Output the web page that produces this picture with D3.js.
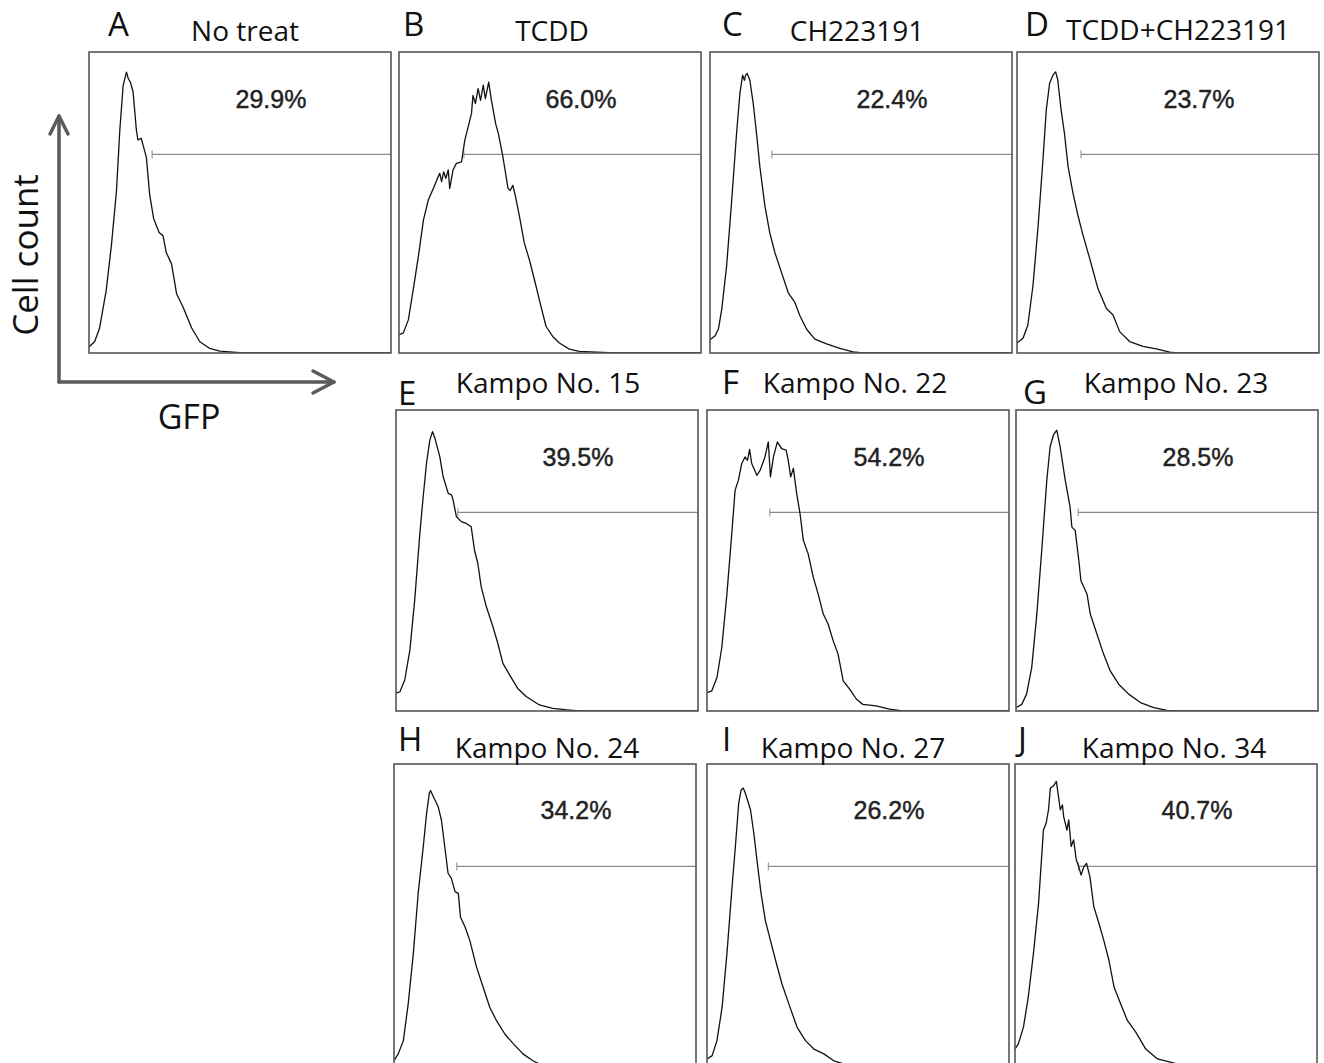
<!DOCTYPE html>
<html>
<head>
<meta charset="utf-8">
<script src="https://cdn.jsdelivr.net/npm/d3@7"></script>
<style>
  html, body { margin: 0; padding: 0; background: #fff; }
  svg { display: block; }
  .title { font-family: "Open Sans", sans-serif; fill: #111; }
  .pct { font-family: "Liberation Sans", Arial, sans-serif; fill: #222; stroke: #222; stroke-width: 0.45px; }
</style>
</head>
<body>
<div id="chart"></div>
<script>
var width = 1324;
var height = 1063;

// panel letters / titles / gated percentages
var letters = ['A', 'B', 'C', 'D', 'E', 'F', 'G', 'H', 'I', 'J'];
var titles = ['No treat', 'TCDD', 'CH223191', 'TCDD+CH223191',
  'Kampo No. 15', 'Kampo No. 22', 'Kampo No. 23',
  'Kampo No. 24', 'Kampo No. 27', 'Kampo No. 34'];
var percents = ['29.9%', '66.0%', '22.4%', '23.7%', '39.5%', '54.2%', '28.5%', '34.2%', '26.2%', '40.7%'];

// gate start on the GFP axis (0-100 of the plotted range) and its height (count %)
var gateStarts = [20.9, 21.5, 20.5, 21.2, 20.5, 20.8, 20.6, 20.8, 20.3, 21.0];
var gateLevel = 66;

// histograms: [GFP, cell count] in % of the plotted range
var histA = [[0,2],[1.9,3.8],[3.5,8.3],[5.7,20.8],[7.4,35.6],[9.1,53.8],[10.2,74],[11.3,88.8],[12.4,93.3],[13,91.2],[13.7,90],[14.6,86.7],[15.7,74],[16.2,70.8],[17.3,71.3],[19,65],[20.1,52.5],[21.4,44.7],[23.2,40],[24.5,39],[25.6,33.3],[27.3,29.7],[29,19.7],[31.2,15.1],[34,8.3],[36.7,3.75],[40,1.5],[43.3,0.6],[47.7,0.3],[51,0],[100,0]];
var histB = [[0,6.1],[1.4,6.6],[3.1,11],[4.7,21],[6.4,32],[8.1,44.2],[9.7,50.8],[11.4,54.7],[13,58.6],[13.5,59.7],[14.1,56.9],[14.8,60.2],[15.5,58],[16.3,60.8],[16.8,54.7],[17.9,60.8],[19,63],[20.7,63.5],[21.8,70.7],[22.9,75.1],[24,79.6],[24.5,85.6],[25.3,82.9],[26.2,87.8],[27,83.9],[27.9,89],[28.6,84.5],[29.7,90],[30.6,84],[32,76.2],[32.9,72.9],[34.4,65.2],[36.1,54.7],[36.8,54],[37.7,55.7],[38.6,51.9],[39.9,45.3],[41.5,36.5],[43.2,30.9],[45.4,22.1],[47,15.5],[48.7,8.8],[50.9,5.5],[53.1,3.3],[56.4,1.3],[59.7,0.55],[67.4,0.2],[71.8,0],[100,0]];
var histC = [[0,4.4],[1.7,5.7],[2.8,8],[3.9,14.6],[5.5,28.9],[7.2,50.9],[8.8,73],[9.9,86.2],[10.8,92.3],[11.4,90.6],[11.8,92.3],[12.3,92.9],[13.2,90.6],[14.3,83],[15.4,73],[16.5,62],[18.2,48.7],[19.8,39.9],[21.5,33.3],[23.7,26.7],[25.9,20],[28.1,16.8],[29.8,12.3],[32,7.9],[34.7,4.6],[38.6,3],[43,1.5],[47.4,0.4],[50.7,0],[100,0]];
var histD = [[0,3.3],[2,4.9],[3.6,9.3],[5.3,22.5],[7,42.3],[8.6,64.3],[9.7,80.8],[10.8,89.6],[11.9,92.3],[12.8,93.4],[13.5,90.7],[14.6,80.8],[15.7,73.1],[16.9,62],[18.5,53.3],[20.2,45.6],[21.9,39],[24.1,31.3],[26.8,21.4],[29.6,14.8],[31.8,12.6],[34,7.1],[37.3,3.8],[41.7,2.2],[46.1,1.4],[50.6,0.3],[52.8,0],[100,0]];
var histE = [[0,5.9],[1.3,6.4],[2.9,10.3],[4.6,20.3],[6.2,36.9],[7.9,59],[9,71.2],[10.1,82.3],[11.2,90],[12.1,92.8],[12.9,90.6],[14.5,84.5],[15.6,77.9],[17.3,72.3],[18.4,71.8],[18.9,70.1],[20,64.6],[21.6,62.9],[23.3,62.3],[24.9,61.2],[26,53.4],[27.1,49],[28.2,41.3],[29.9,34.7],[32.1,28],[33.7,22.5],[35.4,15.8],[37.6,12],[40.3,7.5],[43.1,4.8],[47.5,2],[51.9,0.9],[57.4,0.3],[60.7,0],[100,0]];
var histF = [[0,6.1],[1.6,6.7],[3.3,11.1],[4.9,21.1],[6.6,38.9],[8.2,58.9],[9.3,73.3],[10.4,76.7],[11.5,82.2],[12.6,84.4],[13.4,83.3],[14.1,86.9],[14.8,82.2],[16.5,78.3],[17.6,80],[19.2,84.4],[20.3,89.4],[21,77.8],[22,84.4],[23.3,89.4],[24.7,87.2],[26.2,86.7],[26.9,83.3],[27.7,77.8],[28.6,80.6],[29.7,72.2],[30.8,65.6],[31.9,56.7],[33.5,52.2],[35.2,44.4],[36.8,38.9],[38.5,32.2],[40.1,28.9],[41.8,23.3],[43.4,18.9],[45.1,10],[47.3,7.2],[49.5,3.9],[51.6,2.2],[56,1.7],[60.4,0.6],[64.8,0],[100,0]];
var histG = [[0,1.1],[1.9,2.2],[3.5,5.6],[5.2,14.4],[6.9,32.2],[8.6,54.4],[10.2,76.7],[11.3,87.8],[12.4,91.7],[13.5,93.3],[14.6,87.8],[16.3,76.7],[17.9,67.8],[18.5,61.1],[19.6,60],[20.8,50],[21.5,43.3],[23.5,38.9],[24.6,32.2],[26.8,25.6],[29,18.9],[31.2,13.3],[34,8.9],[37.3,5.6],[41.2,2.8],[45.6,1.1],[50,0.2],[52.2,0],[100,0]];
var histH = [[0,1.4],[1.4,3.7],[3.1,8.1],[4.7,20.3],[6.4,37],[8,57],[9.7,72.6],[10.8,83.7],[11.7,90.3],[12.1,91.2],[13,89.2],[14.6,85.9],[15.7,81.4],[16.8,72.6],[17.9,63.7],[19,62],[20.2,57.6],[21.3,57],[22,49.2],[23.5,45.9],[25.1,41.4],[27.3,32.6],[29.5,25.9],[31.7,19.2],[33.9,14.8],[36.7,10.3],[39.4,7.2],[42.7,3.7],[46,1.4],[48.2,0.3],[50,0],[100,0]];
var histI = [[0,2],[1.7,3.1],[3.3,8.1],[5,19.2],[6.6,37],[8.3,59.2],[9.4,72.6],[10.5,87],[11.3,91.4],[12,92],[12.7,90.3],[14.4,84.8],[15.5,77],[16.8,65.9],[17.9,57],[19.3,48.1],[21,41.4],[22.7,34.8],[24.8,27],[27.1,20.3],[29.8,12.6],[32.6,8.1],[35.4,5.3],[38.7,3.7],[42,1.4],[46.4,0],[100,0]];
var histJ = [[0,5.3],[1.1,7],[2.8,12.6],[4.4,22.6],[6.1,37],[7.8,53.7],[8.9,70.3],[9.4,78],[10.3,80.3],[11.1,84.8],[11.7,92],[12.6,92.6],[13,93.1],[13.7,94.2],[14.4,89.2],[15,84.8],[15.7,86.4],[16.1,82.6],[17.2,78],[17.8,81.4],[18.6,72.6],[19.4,74.8],[20.3,68.1],[21.1,65.9],[21.9,63.1],[22.8,65.9],[23.7,67],[24.8,62.6],[26.1,52.6],[27.8,47],[29.4,41.4],[31.1,34.8],[32.8,25.9],[35,20.3],[37.2,14.8],[40,10.9],[43.3,5.3],[47.2,2],[51.7,0.9],[55,0],[100,0]];
var hists = [histA, histB, histC, histD, histE, histF, histG, histH, histI, histJ];

// layout of the boxes (page pixels)
var boxW = 302, boxH = 301;
var boxLeft = [89, 399, 710, 1017, 396, 707, 1016, 394, 707, 1015];
var boxTop = [52, 52, 52, 52, 410, 410, 410, 764, 764, 764];
var letterPos = [[108, 36], [403, 36], [722, 36], [1025, 36], [398, 405], [722, 394], [1023, 404], [398, 751], [722, 751], [1018, 751]];
var titlePos = [[245, 41], [552, 41], [857, 41], [1178, 40], [548, 393], [855, 393], [1176, 393], [547, 758], [853, 758], [1174, 758]];

var svg = d3.select('#chart')
  .append('svg')
    .attr('width', width)
    .attr('height', height);

var x = d3.scaleLinear().domain([0, 100]).range([0, boxW]);
var y = d3.scaleLinear().domain([0, 100]).range([boxH, 0]);
var line = d3.line().x(d => x(d[0])).y(d => y(d[1]));

letters.forEach(function(letter, i) {
  var g = svg.append('g')
    .attr('transform', 'translate(' + boxLeft[i] + ',' + boxTop[i] + ')');

  g.append('clipPath').attr('id', 'clip' + i)
    .append('rect').attr('width', boxW).attr('height', boxH);

  // gate bar
  g.append('line')
    .attr('x1', x(gateStarts[i])).attr('x2', boxW)
    .attr('y1', y(gateLevel)).attr('y2', y(gateLevel))
    .attr('stroke', '#8a8a8a').attr('stroke-width', 1.2);
  g.append('line')
    .attr('x1', x(gateStarts[i])).attr('x2', x(gateStarts[i]))
    .attr('y1', y(gateLevel) - 4).attr('y2', y(gateLevel) + 4)
    .attr('stroke', '#8a8a8a').attr('stroke-width', 1);

  // histogram
  g.append('path')
    .datum(hists[i])
    .attr('clip-path', 'url(#clip' + i + ')')
    .attr('fill', 'none')
    .attr('stroke', '#111')
    .attr('stroke-width', 1.3)
    .attr('stroke-linejoin', 'round')
    .attr('d', line);

  // frame
  g.append('rect')
    .attr('width', boxW).attr('height', boxH)
    .attr('fill', 'none')
    .attr('stroke', '#555')
    .attr('stroke-width', 1.6);

  g.append('text')
    .attr('class', 'pct')
    .attr('x', 182).attr('y', boxTop[i] === 764 ? 55 : 56)
    .attr('text-anchor', 'middle')
    .attr('font-size', 25)
    .text(percents[i]);

  svg.append('text')
    .attr('class', 'title')
    .attr('x', letterPos[i][0]).attr('y', letterPos[i][1])
    .attr('font-size', 33)
    .text(letter);

  svg.append('text')
    .attr('class', 'title')
    .attr('x', titlePos[i][0]).attr('y', titlePos[i][1])
    .attr('text-anchor', 'middle')
    .attr('font-size', 28)
    .text(titles[i]);
});

// axis arrows next to panel A
var ax = svg.append('g')
  .attr('stroke', '#5a5a5a').attr('stroke-width', 3.5)
  .attr('fill', 'none').attr('stroke-linecap', 'round').attr('stroke-linejoin', 'round');
ax.append('path').attr('d', 'M59,382 V116');
ax.append('path').attr('d', 'M50,134 L59,116 L68,134');
ax.append('path').attr('d', 'M59,382 H334');
ax.append('path').attr('d', 'M313,371 L334,382 L313,393');

svg.append('text')
  .attr('class', 'title')
  .attr('transform', 'translate(38,255) rotate(-90)')
  .attr('text-anchor', 'middle')
  .attr('font-size', 35)
  .text('Cell count');

svg.append('text')
  .attr('class', 'title')
  .attr('x', 189).attr('y', 429)
  .attr('text-anchor', 'middle')
  .attr('font-size', 34)
  .text('GFP');
</script>
</body>
</html>
